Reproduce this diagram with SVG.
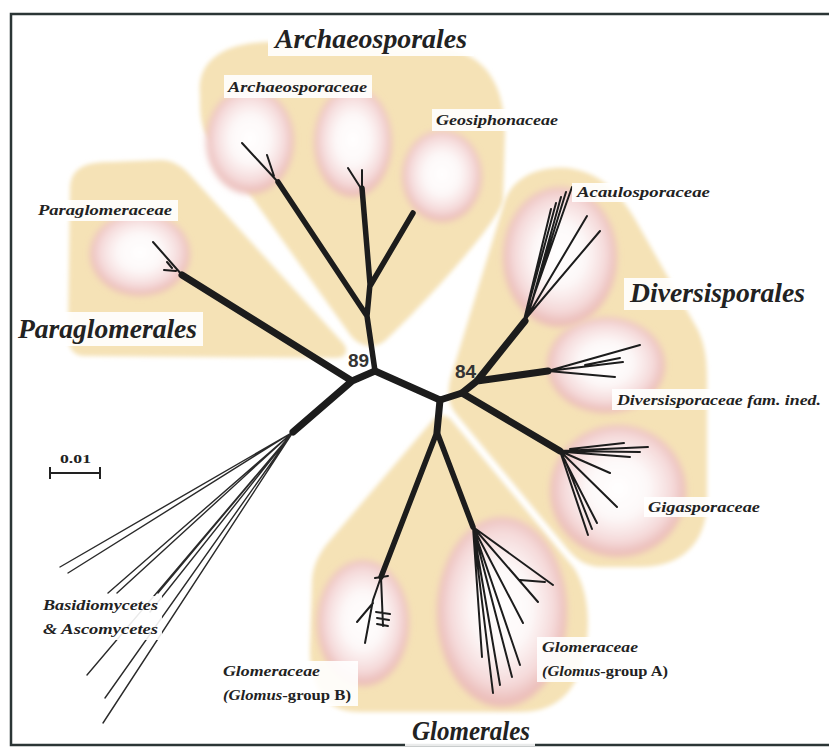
<svg xmlns="http://www.w3.org/2000/svg" width="829" height="747" viewBox="0 0 829 747">
<defs>
<radialGradient id="pink" cx="50%" cy="48%" r="50%">
<stop offset="0" stop-color="#ffffff"/>
<stop offset="0.45" stop-color="#fdf8f8"/>
<stop offset="0.8" stop-color="#f5dada"/>
<stop offset="1" stop-color="#ebbcb8"/>
</radialGradient>
<filter id="soft" x="-10%" y="-10%" width="120%" height="120%"><feGaussianBlur stdDeviation="2"/></filter>
<filter id="soft2" x="-10%" y="-10%" width="120%" height="120%"><feGaussianBlur stdDeviation="3"/></filter>
<style>
.reg{fill:#f5e2b6;filter:url(#soft)}
.ell{fill:url(#pink);filter:url(#soft2)}
.box{fill:#ffffff;fill-opacity:0.9}
.thick{fill:none;stroke:#1c1c1c;stroke-width:7;stroke-linecap:round;stroke-linejoin:round}
.mid{fill:none;stroke:#1c1c1c;stroke-width:5.5;stroke-linecap:round;stroke-linejoin:round}
.thin{fill:none;stroke:#1c1c1c;stroke-width:2;stroke-linecap:round}
.hair{fill:none;stroke:#2a2a2a;stroke-width:1.4;stroke-linecap:round}
.big{font-family:"Liberation Serif",serif;font-weight:bold;font-style:italic;font-size:28px;fill:#222}
.sm{font-family:"Liberation Serif",serif;font-weight:bold;font-style:italic;font-size:15px;fill:#222}
.up{font-style:normal}
.bs{font-family:"Liberation Sans",Arial,sans-serif;font-weight:bold;font-size:19px;fill:#333}
.sc{font-family:"Liberation Serif",serif;font-weight:bold;font-size:13px;fill:#222}
</style>
</defs>
<rect width="829" height="747" fill="#ffffff"/>
<path d="M829,14 H11 V745 H829" fill="none" stroke="#2b3535" stroke-width="2.5"/>

<g id="regions">
<path id="reg-archaeosporales" class="reg" d="M200,95 C196,58 228,42 270,42 L440,48 C488,52 505,88 505,135 L503,200 C500,222 420,308 386,340 C373,351 360,346 351,336 L205,132 C200,122 200,108 200,95 Z"/>
<path id="reg-paraglomerales" class="reg" d="M70,190 C70,168 85,162 110,162 L160,160 C172,160 182,166 190,175 L343,343 C350,352 345,358 335,358 L85,356 C73,356 68,348 68,335 Z"/>
<path id="reg-diversisporales" class="reg" d="M505,200 C515,174 543,166 568,168 C598,172 620,190 640,228 L698,330 C705,345 707,360 707,380 L707,500 C707,545 680,567 640,567 L602,567 C587,567 577,560 569,551 L456,414 C449,405 447,395 450,380 Z"/>
<path id="reg-glomerales" class="reg" d="M432,421 C438,413 448,414 453,422 L574,568 C588,590 591,622 585,652 C578,690 558,712 520,712 L360,712 C326,712 310,690 310,650 L312,580 C313,566 318,556 326,545 Z"/>
</g>

<g id="families">
<ellipse id="ell-arch1" class="ell" cx="250" cy="141" rx="44" ry="53"/>
<ellipse id="ell-arch2" class="ell" cx="353" cy="142" rx="39" ry="55"/>
<ellipse id="ell-geosiphon" class="ell" cx="442" cy="176" rx="40" ry="46"/>
<ellipse id="ell-paraglom" class="ell" cx="140" cy="254" rx="50" ry="42"/>
<ellipse id="ell-acaulo" class="ell" cx="560" cy="257" rx="57" ry="70"/>
<ellipse id="ell-diversi" class="ell" cx="606" cy="365" rx="59" ry="48"/>
<ellipse id="ell-giga" class="ell" cx="618" cy="491" rx="68" ry="66"/>
<ellipse id="ell-glomB" class="ell" cx="363" cy="623" rx="46" ry="63"/>
<ellipse id="ell-glomA" class="ell" cx="502" cy="612" rx="65" ry="95"/>
</g>

<g id="tree">
<path class="hair" d="M293,432 L60,567 M293,432 L68,573 M293,432 L108,593 M293,432 L117,593 M293,432 L158,593 M293,432 L87,675 M293,432 L105,698 M293,432 L103,723 M293,432 L150,612"/>
<path class="thick" d="M293,432 L352,381 L375,371 L440,400 L462,393 M352,381 L182,275"/>
<path class="mid" d="M375,371 L367,316 L370,284 L362,188 M367,316 L278,182 M370,286 L413,213"/>
<path class="thin" d="M182,275 L153,242 M176,271 L164,270 M172,268 L167,262 M278,182 L242,143 M274,176 L267,155 M362,190 L348,168 M362,190 L362,170"/>
<path class="thick" d="M462,393 L477,381 L525,321 M477,381 L548,371 M462,393 L560,451 M440,400 L437,432"/>
<path class="mid" d="M437,432 L381,577 M437,432 L473,527"/>
<path class="thin" d="M525,321 L572,187 M527,318 L566,192 M528,316 L561,197 M525,318 L556,203 M524,320 L551,209 M530,312 L587,216 M528,316 L600,231"/>
<path class="thin" d="M548,371 L640,345 M548,371 L623,362 M548,371 L615,377 M585,365 L620,358"/>
<path class="thin" d="M560,451 L648,447 M560,451 L640,452 M565,452 L630,457 M570,449 L624,443 M560,451 L617,507 M560,451 L610,473 M560,451 L588,535 M560,451 L597,523 M565,460 L592,529"/>
<path class="thin" d="M381,577 L373,600 L365,643 M373,603 L357,622 M381,577 L383,626 M376,612 L390,614 M377,618 L389,620 M377,624 L388,626 M375,578 L388,576"/>
<path class="thin" d="M473,527 L553,585 M473,527 L538,602 M473,527 L523,623 M473,527 L493,693 M473,527 L482,657 M473,527 L512,677 M473,527 L520,665 M473,527 L500,685 M520,580 L545,582"/>
</g>

<g id="labels">
<rect class="box" x="268" y="20" width="206" height="36"/>
<text class="big" x="275" y="48" textLength="192" lengthAdjust="spacingAndGlyphs">Archaeosporales</text>
<rect class="box" x="224" y="75" width="148" height="23"/>
<text class="sm" x="228" y="92" textLength="139" lengthAdjust="spacingAndGlyphs">Archaeosporaceae</text>
<rect class="box" x="432" y="109" width="130" height="22"/>
<text class="sm" x="436" y="125" textLength="122" lengthAdjust="spacingAndGlyphs">Geosiphonaceae</text>
<rect class="box" x="33" y="200" width="145" height="21"/>
<text class="sm" x="38" y="215" textLength="134" lengthAdjust="spacingAndGlyphs">Paraglomeraceae</text>
<rect class="box" x="13" y="312" width="190" height="34"/>
<text class="big" x="18" y="338" textLength="179" lengthAdjust="spacingAndGlyphs">Paraglomerales</text>
<rect class="box" x="572" y="183" width="142" height="19"/>
<text class="sm" x="577" y="197" textLength="133" lengthAdjust="spacingAndGlyphs">Acaulosporaceae</text>
<rect class="box" x="624" y="278" width="188" height="32"/>
<text class="big" x="630" y="302" textLength="175" lengthAdjust="spacingAndGlyphs">Diversisporales</text>
<rect class="box" x="612" y="389" width="214" height="21"/>
<text class="sm" x="617" y="405" textLength="204" lengthAdjust="spacingAndGlyphs">Diversisporaceae fam. ined.</text>
<rect class="box" x="644" y="497" width="120" height="20"/>
<text class="sm" x="648" y="512" textLength="112" lengthAdjust="spacingAndGlyphs">Gigasporaceae</text>
<rect class="box" x="537" y="637" width="135" height="45"/>
<text class="sm" x="542" y="652" textLength="96" lengthAdjust="spacingAndGlyphs">Glomeraceae</text>
<text class="sm" x="542" y="676" textLength="126" lengthAdjust="spacingAndGlyphs">(Glomus<tspan class="up">-group A)</tspan></text>
<rect class="box" x="218" y="661" width="140" height="45"/>
<text class="sm" x="223" y="676" textLength="97" lengthAdjust="spacingAndGlyphs">Glomeraceae</text>
<text class="sm" x="223" y="700" textLength="128" lengthAdjust="spacingAndGlyphs">(Glomus<tspan class="up">-group B)</tspan></text>
<rect class="box" x="405" y="716" width="130" height="30"/>
<text class="big" x="412" y="740" textLength="118" lengthAdjust="spacingAndGlyphs">Glomerales</text>
<rect class="box" x="38" y="596" width="124" height="44" fill-opacity="0.85"/>
<text class="sm" x="43" y="610" textLength="115" lengthAdjust="spacingAndGlyphs">Basidiomycetes</text>
<text class="sm" x="43" y="634" textLength="115" lengthAdjust="spacingAndGlyphs">&amp; Ascomycetes</text>
<text class="bs" x="348" y="367">89</text>
<text class="bs" x="455" y="378">84</text>
</g>

<g id="scalebar">
<text class="sc" x="60" y="463" textLength="31" lengthAdjust="spacingAndGlyphs">0.01</text>
<path d="M50,473 H100 M50,467 V479 M100,467 V479" fill="none" stroke="#222" stroke-width="2"/>
</g>
</svg>
